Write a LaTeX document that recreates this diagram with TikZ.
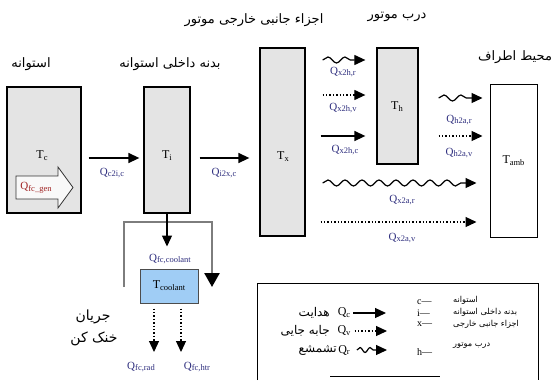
\documentclass[tikz,border=0pt]{standalone}
\usepackage{fontspec}
\setmainfont{Liberation Serif}
\newfontfamily\fa[Script=Arabic]{DejaVu Sans}
\TeXXeTstate=1
\usetikzlibrary{arrows.meta,calc,decorations.pathmorphing}
\definecolor{HtNavy}{RGB}{45,45,125}
\definecolor{HtRed}{RGB}{160,35,35}
\definecolor{HtFill}{RGB}{228,228,228}
\definecolor{HtBlue}{RGB}{160,205,245}
\definecolor{HtLoop}{RGB}{125,125,125}
% subscript in the style of the drawing
\newcommand{\qsub}[1]{\raisebox{-0.35ex}{\fontsize{8.5}{9}\selectfont #1}}
\tikzset{
  ht/box/.style={draw=black, line width=1.3pt, fill=HtFill, inner sep=0pt},
  ht/ambbox/.style={draw=black, line width=1pt, fill=white, inner sep=0pt,
    font=\fontsize{12}{13}\selectfont},
  ht/coolbox/.style={draw=black!70, line width=1pt, fill=HtBlue, inner sep=0pt,
    minimum width=58pt, minimum height=34pt, font=\fontsize{12}{13}\selectfont},
  ht/temp/.style={font=\fontsize{12}{13}\selectfont},
  ht/qlabel/.style={font=\fontsize{11}{12}\selectfont, text=HtNavy, inner sep=1pt},
  ht/title/.style={font=\fa\fontsize{13}{15}\selectfont},
  ht/cool/.style={font=\fa\fontsize{14}{16}\selectfont},
  ht/legtext/.style={font=\fa\fontsize{12}{14}\selectfont, inner sep=1pt},
  ht/legq/.style={font=\fontsize{12}{13}\selectfont, inner sep=1pt},
  ht/legcode/.style={font=\fontsize{10}{11}\selectfont, anchor=west, inner sep=1pt},
  ht/small/.style={font=\fa\fontsize{8.2}{10}\selectfont, anchor=west, inner sep=1pt},
  ht/arrow/.style={-{Triangle[length=11pt,width=10pt]}, line width=1.4pt},
  ht/dotarrow/.style={ht/arrow, dotted, line width=1.2pt},
  ht/wavearrow/.style={ht/arrow, line width=1.2pt, decorate,
    decoration={snake, amplitude=3pt, segment length=17pt, post length=9pt}},
  ht/fat/.style={draw=black!80, line width=0.8pt, fill=white, fill opacity=0.8},
  ht/loop/.style={draw=HtLoop, line width=2.5pt,
    -{Triangle[length=14pt,width=15pt,color=black]}},
  ht/legend/.style={draw=black, line width=1pt}
}
\begin{document}
\begin{tikzpicture}[x=1pt,y=-1pt]
  \useasboundingbox (0,0) rectangle (551,380);
  % blocks
  \node[ht/box, minimum width=74pt, minimum height=126pt] (tc) at (44,150) {};
  \node[ht/box, minimum width=46pt, minimum height=126pt] (ti) at (167,150) {};
  \node[ht/box, minimum width=45pt, minimum height=188pt] (tx) at (282.5,142) {};
  \node[ht/box, minimum width=41pt, minimum height=116pt] (th) at (397.5,106) {};
  \node[ht/ambbox, minimum width=47pt, minimum height=153pt] (tamb) at (513.5,160.5) {T\qsub{amb}};
  \node[ht/coolbox] (tcool) at (169,286) {T\qsub{coolant}};
  \node[ht/temp] (tc-t) at (42,156) {T\qsub{c}};
  \node[ht/temp] (ti-t) at (167,156) {T\qsub{i}};
  \node[ht/temp] (tx-t) at (283,157) {T\qsub{x}};
  \node[ht/temp] (th-t) at (397,107) {T\qsub{h}};

  % headings
  \node[ht/title] (cyl) at (31,64) {\beginR استوانه\endR};
  \node[ht/title] (liner) at (170,64) {\beginR بدنه داخلی استوانه\endR};
  \node[ht/title] (ext) at (254,20) {\beginR اجزاء جانبی خارجی موتور\endR};
  \node[ht/title] (hood) at (397,17) {\beginR درب موتور\endR};
  \node[ht/title] (amb) at (515,57) {\beginR محیط اطراف\endR};

  % heat generated in the cylinder
  \draw[ht/fat] (16,176) -- (58,176) -- (58,167) -- (73,187.5) -- (58,208) -- (58,199) -- (16,199) -- cycle;
  \node[ht/qlabel, text=HtRed] (qgen) at (36,188) {Q\qsub{fc\_gen}};

  % rows of the heat flows
  \coordinate (r1) at (0,158);
  \coordinate (r2) at (0,60);
  \coordinate (r3) at (0,95);
  \coordinate (r4) at (0,136);
  \coordinate (r5) at (0,98);
  \coordinate (r6) at (0,183);
  \coordinate (r7) at (0,222);

  \draw[ht/arrow] ([xshift=7pt]tc.east |- r1) -- ([xshift=-4pt]ti.west |- r1);
  \node[ht/qlabel] (q-c2i) at (112,173) {Q\qsub{c2i,c}};
  \draw[ht/arrow] ([xshift=9pt]ti.east |- r1) -- ([xshift=-10pt]tx.west |- r1);
  \node[ht/qlabel] (q-i2x) at (224,173) {Q\qsub{i2x,c}};

  \draw[ht/wavearrow] ([xshift=17pt]tx.east |- r2) -- ([xshift=-11pt]th.west |- r2);
  \node[ht/qlabel] (q-x2h-r) at (343,72) {Q\qsub{x2h,r}};
  \draw[ht/dotarrow] ([xshift=17pt]tx.east |- r3) -- ([xshift=-11pt]th.west |- r3);
  \node[ht/qlabel] (q-x2h-v) at (343,108) {Q\qsub{x2h,v}};
  \draw[ht/arrow] ([xshift=15pt]tx.east |- r4) -- ([xshift=-11pt]th.west |- r4);
  \node[ht/qlabel] (q-x2h-c) at (345,150) {Q\qsub{x2h,c}};

  \draw[ht/wavearrow] ([xshift=20pt]th.east |- r5) -- ([xshift=-7pt]tamb.west |- r5);
  \node[ht/qlabel] (q-h2a-r) at (459,120) {Q\qsub{h2a,r}};
  \draw[ht/dotarrow] ([xshift=20pt]th.east |- r4) -- ([xshift=-7pt]tamb.west |- r4);
  \node[ht/qlabel] (q-h2a-v) at (459,153) {Q\qsub{h2a,v}};

  \draw[ht/wavearrow] ([xshift=17pt]tx.east |- r6) -- ([xshift=-13pt]tamb.west |- r6);
  \node[ht/qlabel] (q-x2a-r) at (402,200) {Q\qsub{x2a,r}};
  \draw[ht/dotarrow] ([xshift=15pt]tx.east |- r7) -- ([xshift=-13pt]tamb.west |- r7);
  \node[ht/qlabel] (q-x2a-v) at (402,238) {Q\qsub{x2a,v}};

  % coolant loop
  \coordinate (loop-in) at (124,287);
  \coordinate (loop-out) at (212,287);
  \draw[ht/loop] (loop-in) -- ++(0,-65) -| (loop-out);
  \draw[ht/arrow] (ti.south) -- ([yshift=22pt]tcool.north -| ti.south);
  \node[ht/qlabel] (q-cool) at (170,259) {Q\qsub{fc,coolant}};
  \coordinate (rad-end) at (154,352);
  \coordinate (htr-end) at (181,352);
  \draw[ht/dotarrow, shorten <=5pt] (tcool.south -| rad-end) -- (rad-end);
  \draw[ht/dotarrow, shorten <=5pt] (tcool.south -| htr-end) -- (htr-end);
  \node[ht/qlabel] (q-rad) at (141,367) {Q\qsub{fc,rad}};
  \node[ht/qlabel] (q-htr) at (197,367) {Q\qsub{fc,htr}};
  \node[ht/cool] (flow1) at (93,317) {\beginR جریان\endR};
  \node[ht/cool] (flow2) at (94,339) {\beginR خنک کن\endR};

  % legend
  \draw[ht/legend] (257,380) -- (257,283) -- (538,283) -- (538,380);
  \draw[ht/legend] (330,376) -- (440,376);
  \node[ht/legtext, anchor=east] (l-cond) at (331,313) {\beginR هدایت\endR};
  \node[ht/legq] (l-qc) at (344,313) {Q\qsub{c}};
  \node[ht/legtext, anchor=east] (l-conv) at (331,331) {\beginR جابه جایی\endR};
  \node[ht/legq] (l-qv) at (344,331) {Q\qsub{v}};
  \node[ht/legtext, anchor=east] (l-radn) at (338,350) {\beginR تشمشع\endR};
  \node[ht/legq] (l-qr) at (344,350) {Q\qsub{r}};
  \coordinate (l-c-end) at (386,313);
  \coordinate (l-v-end) at (387,331);
  \coordinate (l-r-end) at (387,350);
  \draw[ht/arrow, line width=1.2pt] ([xshift=2pt]l-qc.east) -- (l-c-end);
  \draw[ht/dotarrow] ([xshift=3pt]l-qv.east) -- (l-v-end);
  \draw[ht/wavearrow, decoration={snake, amplitude=2.5pt, segment length=10pt, post length=9pt}] ([xshift=6pt]l-qr.east) -- (l-r-end);

  \node[ht/legcode] (k-c) at (416,302) {c—};
  \node[ht/legcode] (k-i) at (416,313) {i—};
  \node[ht/legcode] (k-x) at (416,324) {x—};
  \node[ht/legcode] (k-h) at (416,352) {h—};
  \node[ht/small] (k-c-t) at (452,300) {\beginR استوانه\endR};
  \node[ht/small] (k-i-t) at (452,312) {\beginR بدنه داخلی استوانه\endR};
  \node[ht/small] (k-x-t) at (452,324) {\beginR اجزاء جانبی خارجی\endR};
  \node[ht/small] (k-h-t) at (452,345) {\beginR درب موتور\endR};
\end{tikzpicture}
\end{document}
